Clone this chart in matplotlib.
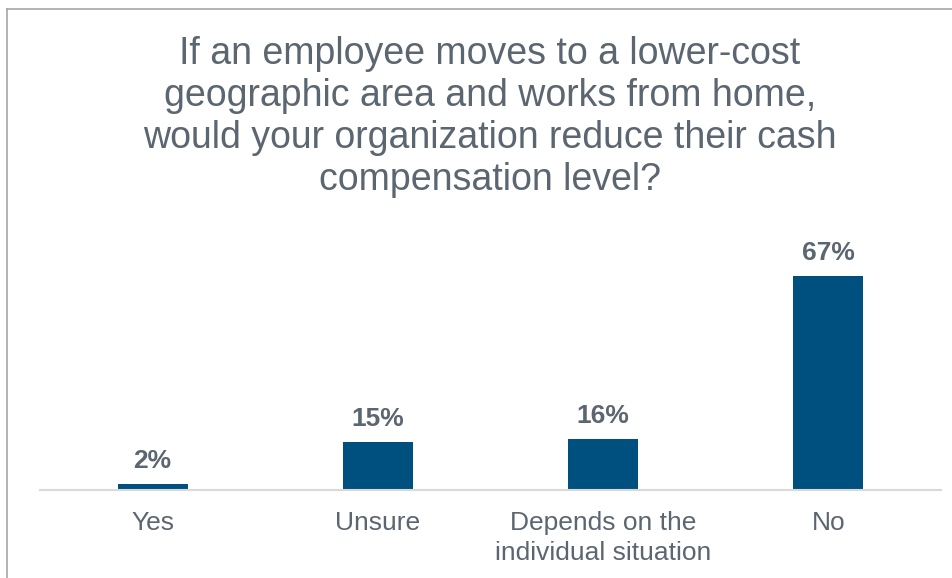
import matplotlib.pyplot as plt
from matplotlib.lines import Line2D

categories = ['Yes', 'Unsure', 'Depends on the\nindividual situation', 'No']
values = [2, 15, 16, 67]
labels = ['2%', '15%', '16%', '67%']

title = ('If an employee moves to a lower-cost\n'
         'geographic area and works from home,\n'
         'would your organization reduce their cash\n'
         'compensation level?')

bar_color = '#00507F'
text_color = '#5B6670'

plt.rcParams['font.family'] = ['Liberation Sans', 'DejaVu Sans']

fig = plt.figure(figsize=(9.53, 5.78), dpi=100, facecolor='w')
ax = fig.add_axes([40 / 953, 88 / 578, 901 / 953, 255.5 / 578])

x = range(len(categories))
bars = ax.bar(x, values, width=70 / 225, color=bar_color)
ax.set_xlim(-0.5, len(categories) - 0.5)
ax.set_ylim(0, 80)

for b, lab in zip(bars, labels):
    ax.annotate(lab, (b.get_x() + b.get_width() / 2, b.get_height()),
                xytext=(0, 8), textcoords='offset points',
                ha='center', va='bottom', fontsize=19,
                fontweight='bold', color=text_color)

ax.set_xticks(list(x))
ax.set_xticklabels(categories, fontsize=19, color=text_color, linespacing=1.3)
ax.tick_params(axis='x', length=0, pad=15)
ax.set_yticks([])
for s in ['top', 'right', 'left']:
    ax.spines[s].set_visible(False)
ax.spines['bottom'].set_color('#D9D9D9')
ax.spines['bottom'].set_linewidth(1.5)

fig.text(490 / 953, 1 - 117 / 578, title, ha='center', va='center',
         fontsize=27, color=text_color, linespacing=1.22)

# outer frame lines (top and left)
fig.add_artist(Line2D([7 / 953, 1], [1 - 9 / 578, 1 - 9 / 578],
                      transform=fig.transFigure, color='#A6A6A6', lw=1.2))
fig.add_artist(Line2D([7 / 953, 7 / 953], [0, 1 - 9 / 578],
                      transform=fig.transFigure, color='#A6A6A6', lw=1.2))

fig.savefig('out.png', dpi=100)
